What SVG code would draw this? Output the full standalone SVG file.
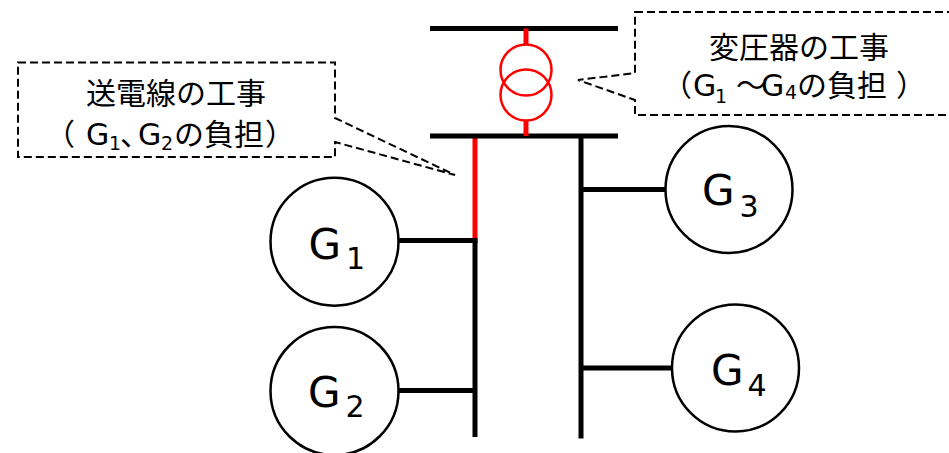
<svg xmlns="http://www.w3.org/2000/svg" width="949" height="453" viewBox="0 0 949 453">
<style>
.bus{stroke:#000;stroke-width:5;fill:none}
.red{stroke:#FF0000;stroke-width:5;fill:none}
.coil{stroke:#FF0000;stroke-width:2.5;fill:none}
.gen{stroke:#000;stroke-width:2.5;fill:#fff}
.call{stroke:#000;stroke-width:2;fill:#fff;stroke-dasharray:8 4}
.t{font-family:'DejaVu Sans','Noto Sans CJK JP',sans-serif;fill:#000}
.jp{font-family:'Noto Sans CJK JP','DejaVu Sans',sans-serif;fill:#000}
.gl{font-size:42px}
.gs{font-size:30px}
.c{font-size:30px}
.cs{font-size:19px}
</style>
<rect width="949" height="453" fill="#fff"/>
<g id="connectors">
<line class="red" x1="475" y1="136" x2="475" y2="240.5"/>
<line class="bus" x1="475" y1="240.5" x2="475" y2="437"/>
<line class="bus" x1="581" y1="136" x2="581" y2="438.5"/>
<line class="bus" x1="399" y1="240.5" x2="477.5" y2="240.5"/>
<line class="bus" x1="399" y1="390.5" x2="475" y2="390.5"/>
<line class="bus" x1="581" y1="189.5" x2="665" y2="189.5"/>
<line class="bus" x1="581" y1="368" x2="672" y2="368"/>
</g>
<g id="bus-top"><line class="bus" x1="430" y1="28.5" x2="618" y2="28.5"/></g>
<g id="bus-low"><line class="bus" x1="430" y1="136" x2="618" y2="136"/></g>
<g id="transformer">
<line class="red" x1="526" y1="28.5" x2="526" y2="44.5"/>
<line class="red" x1="526" y1="120.5" x2="526" y2="136"/>
<circle class="coil" cx="526" cy="70" r="25.5"/>
<circle class="coil" cx="526" cy="95" r="25.5"/>
</g>
<g id="g1">
<circle class="gen" cx="334.5" cy="241.7" r="64"/>
<text class="t gl" x="308.5" y="259">G</text>
<text class="t gs" x="346" y="269">1</text>
</g>
<g id="g2">
<circle class="gen" cx="334.5" cy="391" r="64"/>
<text class="t gl" x="308" y="406.7">G</text>
<text class="t gs" x="345.5" y="417.3">2</text>
</g>
<g id="g3">
<circle class="gen" cx="729" cy="189.5" r="63.5"/>
<text class="t gl" x="702" y="205">G</text>
<text class="t gs" x="739.5" y="217.3">3</text>
</g>
<g id="g4">
<circle class="gen" cx="735.5" cy="368" r="63.5"/>
<text class="t gl" x="711" y="385">G</text>
<text class="t gs" x="747.5" y="395.7">4</text>
</g>
<g id="callout-line">
<path class="call" d="M18,62.5 H335 V118 L455,175 L335,142 V157 H18 Z"/>
<text class="jp c" x="176" y="104" text-anchor="middle">送電線の工事</text>
<text class="t c" y="145"><tspan class="jp" x="45">（</tspan><tspan x="86">G</tspan><tspan class="cs" x="109" y="150">1</tspan><tspan class="jp" x="120" y="145">、</tspan><tspan x="138">G</tspan><tspan class="cs" x="161" y="150">2</tspan><tspan class="jp" x="174" y="145">の負担</tspan><tspan class="jp" x="265">）</tspan></text>
</g>
<g id="callout-transformer">
<path class="call" d="M635,12 H955 V115 H635 V100 L578,80 L635,73 Z"/>
<text class="jp c" x="799" y="57.5" text-anchor="middle">変圧器の工事</text>
<text class="t c" y="96"><tspan class="jp" x="662">（</tspan><tspan x="693">G</tspan><tspan class="cs" x="715" y="102.5">1</tspan><tspan class="jp" x="736" y="96">～</tspan><tspan x="761">G</tspan><tspan class="cs" x="785" y="98.5">4</tspan><tspan class="jp" x="797" y="96">の負担</tspan><tspan class="jp" x="896">）</tspan></text>
</g>
</svg>
